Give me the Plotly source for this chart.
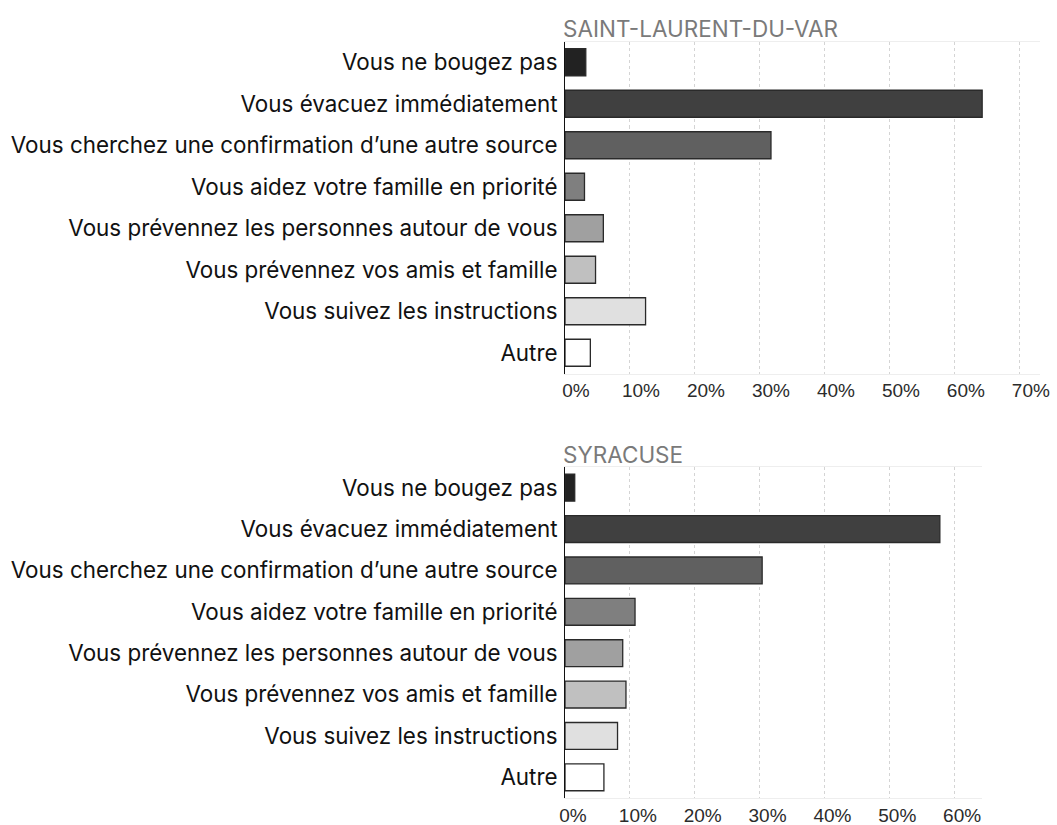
import plotly.graph_objects as go

# Survey answers (top-to-bottom order) and the share of respondents (%)
categories = [
    "Vous ne bougez pas",
    "Vous évacuez immédiatement",
    "Vous cherchez une confirmation d\u2019une autre source",
    "Vous aidez votre famille en priorité",
    "Vous prévennez les personnes autour de vous",
    "Vous prévennez vos amis et famille",
    "Vous suivez les instructions",
    "Autre",
]
saint_laurent = [3.2, 64.2, 31.7, 3.0, 5.9, 4.7, 12.4, 3.9]
syracuse = [1.5, 57.8, 30.4, 10.8, 8.9, 9.4, 8.1, 6.0]

titles = ["SAINT-LAURENT-DU-VAR", "SYRACUSE"]
top_ticks = [0, 10, 20, 30, 40, 50, 60, 70]
bottom_ticks = [0, 10, 20, 30, 40, 50, 60]

bar_colors = ["#222222", "#404040", "#606060", "#7f7f7f",
              "#a0a0a0", "#c0c0c0", "#e0e0e0", "#ffffff"]

W, H = 1057, 825
LABEL_FONT = "Inter, Roboto, sans-serif"
TICK_FONT = "Liberation Sans, Arial, sans-serif"

fig = go.Figure()

panels = [
    # (values, x-axis id, y-axis id, x range, y pixel top/bottom, x pixel right, ticks, label shift)
    (saint_laurent, "x", "y", [0, 73.1], (41.5, 373.5), 1040, top_ticks, 11),
    (syracuse, "x2", "y2", [0, 64.3], (467.0, 798.0), 982, bottom_ticks, 8),
]

x_left = 565
for i, (vals, xa, ya, xr, (ytop, ybot), xright, ticks, shift) in enumerate(panels):
    fig.add_trace(go.Bar(
        x=vals, y=categories, orientation="h",
        xaxis=xa, yaxis=ya,
        marker=dict(color=bar_colors, line=dict(color="#2a2a2a", width=1.3)),
        hoverinfo="x+y", showlegend=False,
    ))
    suffix = "" if i == 0 else "2"
    fig.layout["xaxis" + suffix] = dict(
        domain=[x_left / W, xright / W],
        range=xr,
        anchor=ya,
        automargin=False,
        tickvals=ticks,
        ticktext=[f"{t}%" for t in ticks],
        tickfont=dict(family=TICK_FONT, size=19, color="#2b2b2b"),
        showgrid=True, gridcolor="#d4d4d4", griddash="dot", gridwidth=1,
        zeroline=False,
        showline=True, linecolor="#eeeeee", linewidth=1, mirror=True,
        ticks="", ticklabelstandoff=0, ticklabelshift=shift,
        fixedrange=True,
    )
    fig.layout["yaxis" + suffix] = dict(
        domain=[1 - ybot / H, 1 - ytop / H],
        anchor=xa,
        automargin=False,
        autorange="reversed",
        type="category",
        tickfont=dict(family=LABEL_FONT, size=22.4, color="#111111"),
        showline=True, linecolor="#111111", linewidth=1,
        showgrid=False, ticks="", ticklabelstandoff=2,
        fixedrange=True,
    )
    fig.add_annotation(
        text=titles[i], xref="paper", yref="paper",
        x=(x_left - 4) / W, y=1 - (ytop - 13) / H,
        xanchor="left", yanchor="middle", showarrow=False,
        font=dict(family=LABEL_FONT, size=22.5, color="#7a7a7a"),
    )

fig.update_layout(
    width=W, height=H,
    margin=dict(l=0, r=0, t=0, b=0),
    paper_bgcolor="white", plot_bgcolor="white",
    bargap=0.35,
)

fig.write_html("out.html")
